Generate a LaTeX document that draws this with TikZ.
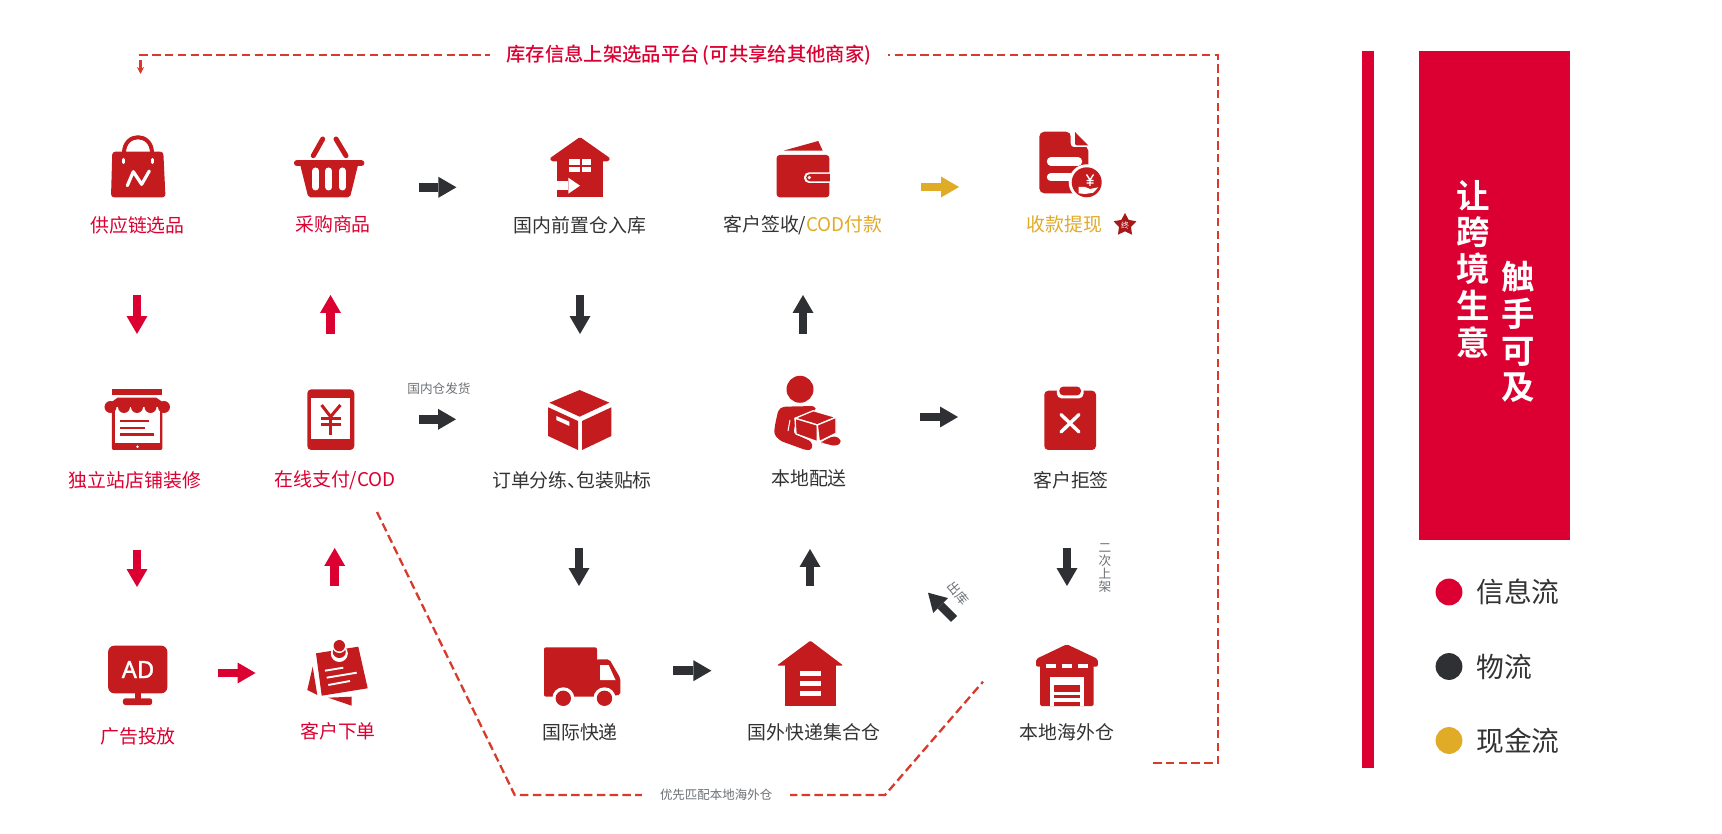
\documentclass[tikz,border=0pt]{standalone}
\usepackage{fontspec}
\setmainfont[BoldFont={Noto Sans CJK SC Bold}]{Noto Sans CJK SC}
\newfontfamily\midfont{Noto Sans CJK SC Medium}
\newfontfamily\adfont[FakeBold=1.5]{Noto Sans}
\usepackage{xcolor}
\usetikzlibrary{arrows.meta,shapes.geometric}

\newdimen\upx
\upx=0.02cm

\definecolor{infored}{HTML}{DC0032}
\definecolor{iconred}{HTML}{C41C1E}
\definecolor{dashred}{HTML}{D83A2C}
\definecolor{darkflow}{HTML}{2E3033}
\definecolor{goldflow}{HTML}{E0AB27}
\definecolor{textgray}{HTML}{6D7175}
\definecolor{textdark}{HTML}{333333}

\tikzset{
    flow/.style={line width=8.5\upx, -{Triangle[length=0.36cm,width=0.42cm,line width=0pt]}},
    flowred/.style={flow, draw=infored},
    flowdark/.style={flow, draw=darkflow},
    flowgold/.style={flow, draw=goldflow},
    dashline/.style={draw=dashred, line width=2.3\upx, dash pattern=on 8.5\upx off 4.3\upx},
    lbl/.style={font=\fontsize{10.75}{12}\selectfont, inner sep=0pt},
    lblred/.style={lbl, text=infored},
    lbldark/.style={lbl, text=textdark},
    lblgold/.style={lbl, text=goldflow},
    note/.style={font=\fontsize{7.2}{7.3}\selectfont, inner sep=0pt, text=textgray, align=center},
    legend/.style={font=\fontsize{15.8}{17}\selectfont, inner sep=0pt, text=textdark, anchor=west},
    slogan/.style={font=\bfseries\fontsize{19}{20.9}\selectfont, text=white, align=center, inner sep=0pt},
    whitebar/.style={draw=white, line width=#1\upx, line cap=round},
    redbar/.style={draw=iconred, line width=#1\upx, line cap=round}
}

\begin{document}
\begin{tikzpicture}[x=0.02cm,y=-0.02cm]

    \useasboundingbox[fill=white] (0,0) rectangle (1722,834);

    % Bag
    \draw[redbar=4] (124,153) .. controls (124,132) and (152,132) .. (152,153);
    \fill[iconred, rounded corners=3\upx] (112.3,151.7) -- (163.3,151.7) -- (165.5,197.3) -- (111,197.3) -- cycle;
    \draw[whitebar=3.4] (123.3,159.5) -- (123.3,162.5);
    \draw[whitebar=3.4] (152.7,159.5) -- (152.7,162.5);
    \draw[whitebar=3.2, line join=round] (127.3,185.7) -- (133.3,171.7) -- (141.7,184.3) -- (149.3,171);

    % Basket
    \draw[redbar=5] (313.3,155.7) -- (322.7,139);
    \draw[redbar=5] (346,155.7) -- (336,139);
    \fill[iconred, rounded corners=2\upx] (300,164) -- (358.3,164) -- (350,197.3) -- (308.3,197.3) -- cycle;
    \draw[redbar=6.2] (297,163.2) -- (361.3,163.2);
    \foreach \x in {315.7,328.7,342.3} {
        \draw[whitebar=7] (\x,171) -- (\x,187);
    }

    % Inbound house
    \fill[iconred] (556.7,155) rectangle (603.3,197.3);
    \fill[iconred, rounded corners=1.5\upx] (580,137) -- (610.5,158.5) -- (608,161.5) -- (552,161.5) -- (549.5,158.5) -- cycle;
    \fill[white] (569.3,159) rectangle (580,165);
    \fill[white] (581.7,159) rectangle (590.7,165);
    \fill[white] (569.3,167) rectangle (580,172.3);
    \fill[white] (581.7,167) rectangle (590.7,172.3);
    \fill[white] (556,181) rectangle (568.3,190.3);
    \fill[white] (568.3,177.7) -- (580,185.7) -- (568.3,193.7) -- cycle;

    % Wallet
    \fill[iconred] (783.3,150.7) -- (818.3,141) -- (822.7,150.7) -- cycle;
    \fill[iconred, rounded corners=3\upx] (776.7,155) rectangle (829.3,197.3);
    \fill[white, rounded corners=5\upx] (804,172.3) rectangle (835,183);
    \fill[iconred, rounded corners=4\upx] (806,174) rectangle (835,181.3);
    \fill[white] (829.5,170) rectangle (836,186);
    \fill[white] (809.3,177.6) circle[radius=1.8];

    % Receipt
    \fill[iconred, rounded corners=5\upx] (1039.3,131.7) -- (1071,131.7) -- (1071,146) -- (1088.3,146) -- (1088.3,193.3) -- (1039.3,193.3) -- cycle;
    \fill[white] (1070.5,131) -- (1073.5,131) -- (1073.5,143.5) -- (1088.5,143.5) -- (1088.5,147) -- (1075,147) .. controls (1071.5,147) and (1070.5,145) .. (1070.5,142) -- cycle;
    \fill[iconred] (1075,132) -- (1088.3,145.5) -- (1077,145.5) .. controls (1075.5,145.5) and (1075,144) .. (1075,143) -- cycle;
    \draw[whitebar=8.4] (1051,161.5) -- (1078,161.5);
    \draw[whitebar=8.4] (1051,177.3) -- (1072,177.3);
    \fill[white] (1086.7,182.3) circle[radius=18];
    \fill[iconred] (1086.7,182.3) circle[radius=15];
    \draw[white, line width=1.4\upx] (1086.5,174.5) -- (1090,180) -- (1093.5,174.5) (1090,180) -- (1090,186) (1086.5,180.5) -- (1093.5,180.5) (1086.5,183) -- (1093.5,183);
    \fill[white] (1078.7,187) -- (1085,187) -- (1090,189) -- (1098.3,187.3) -- (1093.3,192.7) -- (1085,194) -- (1078.7,193.3) -- cycle;

    % Store
    \fill[iconred] (111.8,389.5) rectangle (161.6,395);
    \fill[iconred, rounded corners=2\upx] (111.8,405) rectangle (162.4,450);
    \fill[white] (114.7,405) rectangle (160.4,443.3);
    \fill[iconred] (117.6,397.7) -- (156.3,397.7) -- (169.8,407) -- (104.5,407) -- cycle;
    \foreach \x in {110.5,124,137,150.5,164} {
        \fill[iconred] (\x,407) circle[radius=6];
    }
    \draw[iconred, line width=2.7\upx] (120.4,421) -- (149.4,421);
    \draw[iconred, line width=2.7\upx] (120.4,428) -- (145.3,428);
    \draw[iconred, line width=2.7\upx] (120.4,434.7) -- (153.5,434.7);
    \fill[white] (137.5,446.7) circle[radius=1.4];

    % Phone
    \fill[iconred, rounded corners=4\upx] (307.3,389.3) rectangle (354.3,450);
    \fill[white] (311.4,397.7) rectangle (350.2,439.3);
    \draw[iconred, line width=3\upx, line join=round] (321.6,405) -- (330.6,416.7) -- (340.4,405);
    \draw[iconred, line width=3\upx] (330.6,416.7) -- (330.6,435);
    \draw[iconred, line width=3\upx] (320.8,418.3) -- (341.2,418.3);
    \draw[iconred, line width=3\upx] (320.8,425) -- (341.2,425);

    % Parcel
    \fill[iconred] (579.6,390) -- (609.4,402.7) -- (579.6,416.7) -- (549.4,402.7) -- cycle;
    \fill[iconred] (548.2,407.3) -- (578,421) -- (578,450) -- (548.2,436) -- cycle;
    \fill[iconred] (611.4,407.3) -- (582,421) -- (582,450) -- (611.4,436) -- cycle;
    \fill[white] (556.3,416) -- (569.4,421.7) -- (569.4,426) -- (556.3,420) -- cycle;

    % Courier with box
    \fill[iconred] (800,389.3) circle[radius=13.5];
    \fill[iconred, rounded corners=3\upx] (782.7,406.7) -- (815,406) -- (816,411) -- (796.7,416.7) -- (793.3,433.3) -- (811.7,441.7) -- (812.5,449) -- (807,450.5) -- (780,440.7) -- (774,434) -- (775,425) -- (778.3,410) -- cycle;
    \fill[iconred, rounded corners=2\upx] (821.7,441.7) -- (833.3,436) -- (840,438.3) -- (841,443.3) -- (835,446) -- (821.7,442.7) -- cycle;
    \filldraw[iconred, draw=white, line width=1.3\upx, line join=round] (795,418.3) -- (813.3,410.7) -- (836,417.3) -- (817.3,425) -- cycle;
    \filldraw[iconred, draw=white, line width=1.3\upx, line join=round] (795,418.3) -- (817.3,425) -- (817.3,441.7) -- (796,434) -- cycle;
    \filldraw[iconred, draw=white, line width=1.3\upx, line join=round] (817.3,425) -- (836,417.3) -- (836,433.3) -- (819.3,441.7) -- cycle;
    \draw[white, line width=1\upx] (788,431) -- (790,420);

    % Clipboard
    \fill[iconred, rounded corners=4\upx] (1044.3,390.7) rectangle (1096,450);
    \fill[white, rounded corners=5\upx] (1056.8,386) rectangle (1083.6,398.5);
    \fill[iconred, rounded corners=4\upx] (1059.3,386.6) rectangle (1081,395.3);
    \draw[whitebar=3.4] (1061,414.5) -- (1079,432);
    \draw[whitebar=3.4] (1079,414.5) -- (1061,432);

    % AD monitor
    \fill[iconred, rounded corners=6\upx] (108.2,645.7) rectangle (167.3,693.3);
    \fill[iconred] (134.7,693) rectangle (141.2,700);
    \fill[iconred, rounded corners=2.5\upx] (122.9,698.3) rectangle (152.2,705);
    \node[font=\adfont\fontsize{13.5}{14}\selectfont, text=white, inner sep=0pt] (adtext) at (138,669.5) {AD};

    % Note
    \fill[iconred] (312.7,666.7) -- (317.3,695) -- (307.3,690) -- cycle;
    \fill[iconred] (328.3,697.7) -- (351.7,696.7) -- (351.7,705.7) -- cycle;
    \fill[iconred] (316,653.3) -- (358.3,646.7) -- (367.7,688.3) -- (321.7,695.7) -- cycle;
    \fill[white] (339.3,653.5) ellipse[x radius=8.5, y radius=8.5];
    \fill[iconred] (339.3,652) ellipse[x radius=6.5, y radius=6];
    \fill[white] (339.3,646) circle[radius=7];
    \fill[iconred] (339.3,645.7) circle[radius=5.7];
    \draw[white, line width=1.9\upx] (325,670.7) -- (343.3,667.7);
    \draw[white, line width=1.9\upx] (326.7,677.7) -- (356.7,672.7);
    \draw[white, line width=1.9\upx] (328.3,685) -- (350,681);

    % Truck
    \fill[iconred, rounded corners=2\upx] (544,647.3) -- (597,647.3) -- (597,696.7) -- (544,696.7) -- cycle;
    \fill[iconred, rounded corners=2\upx] (596,659.3) -- (609.4,659.3) -- (620.4,678.3) -- (620.4,695) -- (596,696.7) -- cycle;
    \fill[white] (600,665) -- (608.6,665) -- (615.5,680) -- (600,680) -- cycle;
    \foreach \x in {563.3,604.5} {
        \fill[white] (\x,698.3) circle[radius=11];
        \fill[iconred] (\x,698.3) circle[radius=7.7];
    }

    % Hub warehouse
    \fill[iconred] (784.6,660) rectangle (836,706);
    \fill[iconred, rounded corners=1\upx] (810.4,640.7) -- (843.2,665.5) -- (777,665.5) -- cycle;
    \foreach \y in {670.7,680.7,690.7} {
        \fill[white] (799.6,\y) rectangle (821,\y+5);
    }

    % Overseas warehouse
    \fill[iconred, rounded corners=1.5\upx] (1040,664) rectangle (1093.6,706);
    \fill[iconred, rounded corners=2\upx] (1066.8,644.3) -- (1097.9,659) -- (1097.9,666.7) -- (1036,666.7) -- (1036,659) -- cycle;
    \foreach \x in {1046,1062,1077.6} {
        \fill[white] (\x,664) rectangle (\x+10.3,668.3);
    }
    \fill[white] (1050.4,677.3) rectangle (1083.6,706);
    \fill[iconred] (1054.3,685) rectangle (1080,691.7);
    \fill[iconred] (1054.3,694.7) rectangle (1080,698.3);
    \fill[iconred] (1054.3,701.7) rectangle (1080,706);

    % Labels
    \node[lblred] (supply) at (137.5,225) {供应链选品};
    \node[lblred] (buy) at (333,224) {采购商品};
    \node[lbldark] (inbound) at (580,225) {国内前置仓入库};
    \node[lbldark] (sign) at (803,225) {客户签收/\textcolor{goldflow}{COD付款}};
    \node[lblgold] (withdraw) at (1064.5,224) {收款提现};
    \node[lblred] (store) at (135,480) {独立站店铺装修};
    \node[lblred] (pay) at (335,480) {在线支付/COD};
    \node[lbldark] (sort) at (572,480) {订单分练、\hspace{-0.55em}包装贴标};
    \node[lbldark] (deliver) at (809,478) {本地配送};
    \node[lbldark] (refuse) at (1071,480) {客户拒签};
    \node[lblred] (adput) at (138,736) {广告投放};
    \node[lblred] (order) at (338,731) {客户下单};
    \node[lbldark] (express) at (580,732) {国际快递};
    \node[lbldark] (hub) at (814,732) {国外快递集合仓};
    \node[lbldark] (overseas) at (1067,732) {本地海外仓};

    % Star
    \node[star, star points=5, star point ratio=1.9, fill=iconred!85!black, minimum size=24\upx, inner sep=0pt] (endstar) at (1125,225) {};
    \node[font=\fontsize{4.5}{5}\selectfont, text=white, inner sep=0pt] (endtext) at (1125,225.5) {终};

    % Flow arrows
    \foreach \n/\x/\y in {ra/137/295, rb/137/334, rc/137/550, rd/137/587, re/330.5/334, rf/330.5/295,
        rg/334.7/586, rh/334.7/548, ri/218/673, rj/255.5/673} {
        \coordinate (\n) at (\x,\y);
    }
    \draw[flowred] (ra) -- (rb);
    \draw[flowred] (rc) -- (rd);
    \draw[flowred] (re) -- (rf);
    \draw[flowred] (rg) -- (rh);
    \draw[flowred] (ri) -- (rj);

    \foreach \n/\x/\y in {da/418.6/187.3, db/456.4/187.3, dc/418.8/419.3, dd/456/419.3, de/580/295, df/580/334,
        dg/579/548, dh/579/586, di/673/670.7, dj/711.4/670.7, dk/810/586, dl/810/549,
        dm/803/334, dn/803/295, do/920/417, dp/958/417, dq/1067/548, dr/1067/586, ds/954/619, dt/928/592.7} {
        \coordinate (\n) at (\x,\y);
    }
    \draw[flowdark] (da) -- (db);
    \draw[flowdark] (dc) -- (dd);
    \draw[flowdark] (de) -- (df);
    \draw[flowdark] (dg) -- (dh);
    \draw[flowdark] (di) -- (dj);
    \draw[flowdark] (dk) -- (dl);
    \draw[flowdark] (dm) -- (dn);
    \draw[flowdark] (do) -- (dp);
    \draw[flowdark] (dq) -- (dr);
    \draw[flowdark] (ds) -- (dt);

    \coordinate (ga) at (921,187);
    \coordinate (gb) at (959,187);
    \draw[flowgold] (ga) -- (gb);

    % Small flow labels
    \node[note] (domestic) at (439,389) {国内仓发货};
    \node[note] (relist) at (1105,568) {二\\次\\上\\架};
    \node[note, rotate=-50] (outbound) at (958,593) {出库};

    % Dashed routes
    \coordinate (ta) at (1153,763);
    \coordinate (tb) at (1218,763);
    \coordinate (tc) at (1218,55);
    \coordinate (td) at (140.5,55);
    \coordinate (te) at (140.5,74);
    \draw[dashline, -{Stealth[length=0.14cm,width=0.14cm]}] (ta) -- (tb) -- (tc)
        -- node[pos=.491, fill=white, inner xsep=17\upx, inner ysep=0pt, font=\midfont\fontsize{11}{12}\selectfont, text=infored] (platform) {库存信息上架选品平台\,(可共享给其他商家)} (td) -- (te);

    \coordinate (ba) at (377,512);
    \coordinate (bb) at (514.7,795);
    \coordinate (bc) at (885,795);
    \coordinate (bd) at (983,681.7);
    \draw[dashline] (ba) -- (bb)
        -- node[pos=.544, fill=white, inner xsep=18\upx, inner ysep=0pt, font=\fontsize{7.1}{7.3}\selectfont, text=textgray] (match) {优先匹配本地海外仓} (bc) -- (bd);

    % Right panel
    \fill[infored] (1362,51) rectangle (1374,767.6);
    \fill[infored] (1419,51) rectangle (1570,540.4);
    \node[slogan] (slogana) at (1473,269) {让\\跨\\境\\生\\意};
    \node[slogan] (sloganb) at (1518,332) {触\\手\\可\\及};

    % Legend
    \fill[infored] (1449,592) circle[radius=13.4];
    \fill[darkflow] (1449,666.5) circle[radius=13.4];
    \fill[goldflow] (1449,740.5) circle[radius=13.4];
    \node[legend] (infoflow) at (1476,592) {信息流};
    \node[legend] (goodsflow) at (1476,666.5) {物流};
    \node[legend] (cashflow) at (1476,740.5) {现金流};

\end{tikzpicture}
\end{document}
